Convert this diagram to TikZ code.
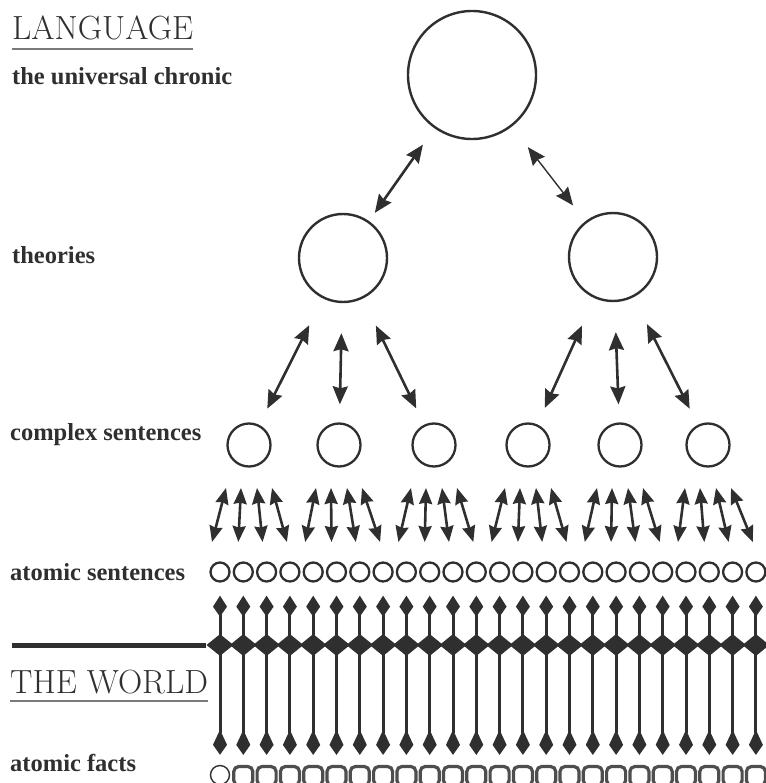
\documentclass[tikz,border=0pt]{standalone}
\usepackage{fontspec}
\usepackage{tikz}
\usetikzlibrary{arrows.meta,positioning,shapes.geometric,calc}
\newfontfamily\levelfont{Liberation Serif}
\definecolor{ink}{HTML}{2F2F2F}
\definecolor{rulegrey}{HTML}{7A7A7A}
\tikzset{
  realm/.style    = {font=\fontsize{33.5}{34}\selectfont, text=ink,
                     anchor=base west, inner sep=0pt},
  level/.style    = {font=\levelfont\fontsize{24.5}{26}\selectfont\bfseries,
                     text=ink, anchor=base west, inner sep=0pt},
  %
  whole/.style    = {circle, draw=ink, line width=2.4pt, minimum size=128pt,
                     inner sep=0pt},
  theory/.style   = {circle, draw=ink, line width=2.4pt, minimum size=88pt,
                     inner sep=0pt},
  complex/.style  = {circle, draw=ink, line width=2.3pt, minimum size=43pt,
                     inner sep=0pt},
  atom/.style     = {circle, draw=ink, line width=2.3pt, minimum size=19pt,
                     inner sep=0pt},
  fact/.style     = {rectangle, rounded corners=5pt, draw=ink!85,
                     line width=3.2pt, minimum size=19pt, inner sep=0pt},
  knot/.style     = {diamond, fill=ink, minimum width=27pt,
                     minimum height=22pt, inner sep=0pt},
  %
  twoway/.style   = {{Stealth[length=18pt,width=15pt,inset=2pt]}-%
                     {Stealth[length=18pt,width=15pt,inset=2pt]},
                     draw=ink, line width=2.6pt},
  fan/.style      = {{Stealth[length=16pt,width=13pt,inset=1.5pt]}-%
                     {Stealth[length=16pt,width=13pt,inset=1.5pt]},
                     draw=ink, line width=2.6pt},
  link/.style     = {{Kite[length=21pt,width=14pt,inset=10pt]}-%
                     {Kite[length=25pt,width=14pt,inset=15pt]},
                     draw=ink, line width=3pt},
  underline/.style= {draw=rulegrey, line width=2.5pt},
  divider/.style  = {draw=ink, line width=5pt},
}

\begin{document}
\begin{tikzpicture}[x=1pt, y=-1pt]
  \useasboundingbox (0,0) rectangle (765,783);

  % ---- level labels -----------------------------------------------------
  \node[realm] (lang)  at (12,40)  {LANGUAGE};
  \node[level] (chron) at (12,85)  {the universal chronic};
  \node[level] (theo)  at (12,263) {theories};
  \node[level] (cplx)  at (10,440) {complex sentences};
  \node[level] (atoms) at (10,580) {atomic sentences};
  \node[realm] (world) at (10,693) {THE WORLD};
  \node[level] (facts) at (10,771) {atomic facts};

  \draw[underline] ([yshift=-9pt]lang.base west) -- ([yshift=-9pt]lang.base east);
  \draw[underline, line width=1.4pt]
    ([yshift=-8pt]world.base west) -- ([yshift=-8pt]world.base east);

  % ---- the tree ---------------------------------------------------------
  \node[whole]  (uc)   at (472,75)  {};
  \node[theory] (th-1) at (343,258) {};
  \node[theory] (th-2) at (613,257) {};
  \foreach \i/\x in {1/249, 2/339, 3/434, 4/528, 5/620, 6/708}
    \node[complex] (cx-\i) at (\x,445) {};
  \foreach \k in {0,...,23}
    \node[atom] (as-\k) at ({220+23.3*\k},572) {};
  \node[atom, line width=1.4pt] (af-0) at (220,775) {};
  \foreach \k in {1,...,23}
    \node[fact] (af-\k) at ({220+23.3*\k},776) {};

  \draw[twoway, shorten <=20pt, shorten >=10pt] (uc) -- (th-1);
  \draw[twoway, line width=1.4pt, shorten <=26pt, shorten >=20pt] (uc) -- (th-2);

  \foreach \t/\c in {1/1, 1/2, 1/3, 2/4, 2/5, 2/6}
    \draw[twoway, shorten <=30pt, shorten >=18pt] (th-\t) -- (cx-\c);

  % four sentences hang under every complex one
  \foreach \i in {1,...,6}
    \foreach \j/\t/\d in {0/-23/-8, 1/-8/-5, 2/8/-4, 3/23/-3} {
      \pgfmathtruncatemacro{\k}{4*(\i-1)+\j}
      \draw[fan] ($(cx-\i)+(\t,43)$) -- ($(as-\k)+(\d,-30)$);
    }

  % ---- the border between language and world ----------------------------
  \coordinate (bar-w) at (12,645);
  \coordinate (bar-e) at (206,645);
  \draw[divider] (bar-w) -- (bar-e);

  \foreach \k in {0,...,23} {
    \draw[link, shorten <=13pt, shorten >=10pt] (as-\k) -- (af-\k);
    \node[knot] (kn-\k) at (as-\k |- bar-e) {};
  }

\end{tikzpicture}
\end{document}
